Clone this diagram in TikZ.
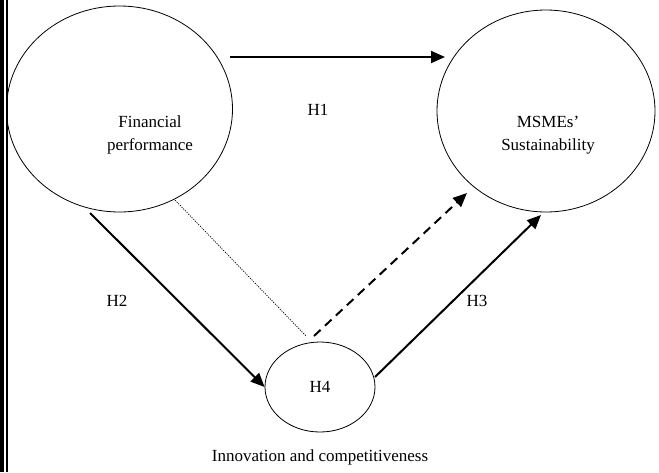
\documentclass[tikz,border=0pt]{standalone}
\usepackage{fontspec}
\setmainfont{Liberation Serif}
\usepackage{tikz}
\usetikzlibrary{shapes, arrows.meta, positioning, calc}
\usepackage{xcolor}

\begin{document}
\begin{tikzpicture}[x=1pt, y=-1pt,
        font=\fontsize{17}{23}\selectfont,
        construct/.style={ellipse, draw, line width=0.8pt, inner sep=0pt},
        caption/.style={text centered, align=center, inner sep=0pt},
        hyp/.style={-{Triangle[length=14pt, width=12pt]}, line width=2pt},
        side/.style={dash pattern=on 1.2pt off 1.2pt, line width=0.7pt}
    ]
        \useasboundingbox (0,0) rectangle (659,472);

        % Border bars
        \fill (0,0) rectangle (4,472);
        \fill (6,0) rectangle (7.8,472);

        % Nodes
        \node [construct, minimum width=226pt, minimum height=206pt] (finperf) at (119.5,109) {};
        \node [construct, minimum width=218pt, minimum height=202pt] (sustain) at (546,111) {};
        \node [construct, minimum width=110pt, minimum height=90pt] (inno) at (320,387) {H4};

        \node [caption] (finlabel) at (150,135) {Financial\\performance};
        \node [caption] (sustlabel) at (548,135) {MSMEs'\\Sustainability};
        \node [caption] (innolabel) at (320,457) {Innovation and competitiveness};

        % Free ends
        \coordinate (h1start) at (230,57);
        \coordinate (h1end) at (445,57);
        \coordinate (h2start) at (90,213);
        \coordinate (dotstart) at (175,200);
        \coordinate (dotend) at (306,336);
        \coordinate (h4start) at (314,336);
        \coordinate (h4end) at (467,193);
        \coordinate (h3start) at (375,377);
        \coordinate (h3end) at (541,215);

        % Arrows
        \draw [hyp] (h1start) -- (h1end);
        \draw [hyp] (h2start) -- (inno.west);
        \draw [side] (dotstart) -- (dotend);
        \draw [hyp, dash pattern=on 9pt off 6pt] (h4start) -- (h4end);
        \draw [hyp] (h3start) -- (h3end);

        % Labels
        \node (labelH1) at (318,110) {H1};
        \node (labelH2) at (117,301) {H2};
        \node (labelH3) at (477,301) {H3};
    \end{tikzpicture}
\end{document}
